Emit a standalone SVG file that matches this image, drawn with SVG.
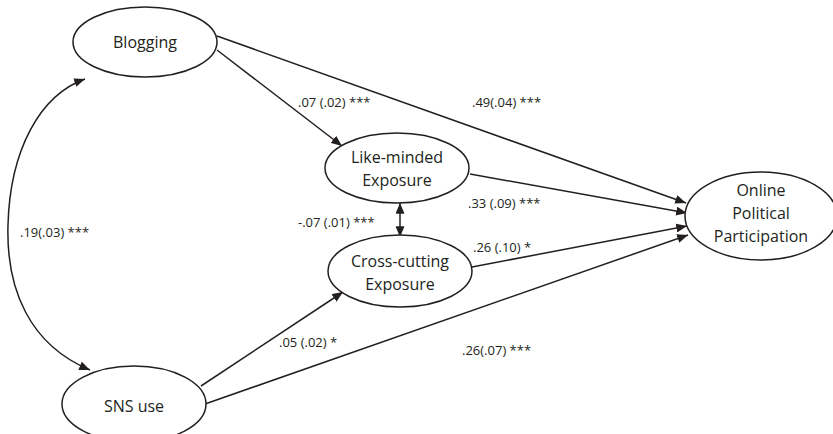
<svg xmlns="http://www.w3.org/2000/svg" width="833" height="434" viewBox="0 0 833 434">
<defs>
<marker id="ah" viewBox="0 0 12 10" refX="12" refY="5" markerWidth="11" markerHeight="9" markerUnits="userSpaceOnUse" orient="auto-start-reverse">
<path d="M0,0 L12,5 L0,10 z" fill="#231f20"/>
</marker>
<style>
.n ellipse{fill:#fff;stroke:#231f20;stroke-width:1.5}
.n text{font-family:"Open Sans","Liberation Sans",sans-serif;font-size:16px;fill:#231f20;text-anchor:middle}
.c path{fill:none;stroke:#231f20;stroke-width:1.5}
.l text{font-family:"Open Sans","Liberation Sans",sans-serif;font-size:13px;fill:#231f20}
</style>
</defs>
<rect width="833" height="434" fill="#fff"/>
<g class="c">
<path d="M217,36 L686,203" marker-end="url(#ah)"/>
<path d="M217,50 L342,146" marker-end="url(#ah)"/>
<path d="M470,174 L687,213" marker-end="url(#ah)"/>
<path d="M472,267 L687,226" marker-end="url(#ah)"/>
<path d="M205,404 L688,235" marker-end="url(#ah)"/>
<path d="M201,386 L343,292" marker-end="url(#ah)"/>
<path d="M400,203 L400,237" marker-start="url(#ah)" marker-end="url(#ah)"/>
<path d="M85,79 C40,95 10,150 8,225 C6,290 30,345 90,370" marker-start="url(#ah)" marker-end="url(#ah)"/>
</g>
<g id="blogging" class="n"><ellipse cx="145" cy="42" rx="72" ry="35"/><text x="145" y="48">Blogging</text></g>
<g id="likeminded" class="n"><ellipse cx="397" cy="168" rx="72" ry="35"/><text x="397" y="163">Like-minded</text><text x="397" y="186">Exposure</text></g>
<g id="crosscutting" class="n"><ellipse cx="400" cy="271" rx="72" ry="36"/><text x="400" y="267">Cross-cutting</text><text x="400" y="290">Exposure</text></g>
<g id="sns" class="n"><ellipse cx="134" cy="404" rx="72" ry="38"/><text x="134" y="412">SNS use</text></g>
<g id="opp" class="n"><ellipse cx="761" cy="216" rx="76" ry="44"/><text x="761" y="196">Online</text><text x="761" y="219">Political</text><text x="761" y="242">Participation</text></g>
<g class="l">
<text x="298" y="107">.07 (.02) ***</text>
<text x="472" y="107">.49(.04) ***</text>
<text x="468" y="208">.33 (.09) ***</text>
<text x="298" y="227">-.07 (.01) ***</text>
<text x="473" y="252">.26 (.10) *</text>
<text x="20" y="237">.19(.03) ***</text>
<text x="279" y="347">.05 (.02) *</text>
<text x="462" y="355">.26(.07) ***</text>
</g>
</svg>
